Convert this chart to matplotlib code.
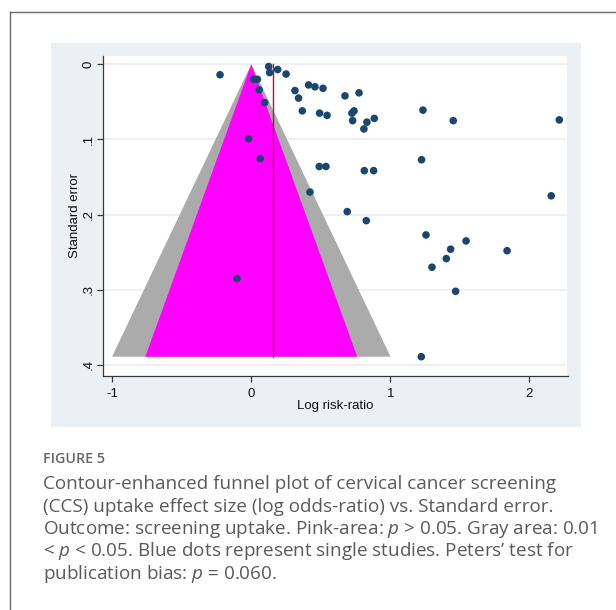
import matplotlib
matplotlib.use("Agg")
import matplotlib.pyplot as plt
from matplotlib.patches import Rectangle, Polygon
from matplotlib.lines import Line2D
import numpy as np

plt.rcParams['mathtext.fontset'] = 'custom'
plt.rcParams['mathtext.rm'] = 'Open Sans'
plt.rcParams['mathtext.it'] = 'Open Sans:italic'

# ---- data ----
log_rr = [-0.225, 0.125, 0.132, 0.190, 0.250, 0.018, 0.044, 0.057, 0.096,
          0.314, 0.340, 0.412, 0.458, 0.516, 0.367, 0.491, 0.545, 0.674,
          0.775, 0.724, 0.739, 0.729, 0.832, 0.885, 0.810, -0.019, 0.065,
          0.489, 0.537, 0.813, 0.880, 0.422, 0.690, 0.827, -0.103,
          1.235, 1.453, 2.216, 1.225, 2.158, 1.257, 1.545, 1.434, 1.403,
          1.840, 1.300, 1.470, 1.223]
std_err = [0.014, 0.003, 0.011, 0.007, 0.013, 0.020, 0.020, 0.034, 0.051,
           0.035, 0.045, 0.0275, 0.030, 0.032, 0.062, 0.065, 0.068, 0.042,
           0.038, 0.065, 0.062, 0.075, 0.077, 0.072, 0.086, 0.099, 0.1255,
           0.136, 0.136, 0.1415, 0.1415, 0.170, 0.196, 0.208, 0.285,
           0.061, 0.075, 0.074, 0.127, 0.175, 0.227, 0.235, 0.246, 0.2585,
           0.248, 0.270, 0.302, 0.389]
pooled = 0.158
z_05 = 1.96
z_01 = 2.576
x_ticks = [-1, 0, 1, 2]
x_ticklabels = ["-1", "0", "1", "2"]
y_ticks = [0, 0.1, 0.2, 0.3, 0.4]
y_ticklabels = ["0", ".1", ".2", ".3", ".4"]

W, H = 616, 610
fig = plt.figure(figsize=(W / 100, H / 100), dpi=100)
fig.patch.set_facecolor('white')

def fx(px):
    return px / W

def fy(py):
    return 1 - py / H

# outer caption frame
fig.add_artist(Line2D([fx(9.8), fx(9.8)], [fy(11.8), 0], transform=fig.transFigure,
                      color='#6b6b6b', lw=1.0))
fig.add_artist(Line2D([fx(9.8), 1], [fy(11.8), fy(11.8)], transform=fig.transFigure,
                      color='#6b6b6b', lw=1.0))

# graph region background
fig.add_artist(Rectangle((fx(51.5), fy(426.7)), fx(580.7) - fx(51.5), fy(42.5) - fy(426.7),
                         transform=fig.transFigure, facecolor='#eaf0f3', edgecolor='none',
                         zorder=0))

ax = fig.add_axes([fx(103), fy(375.5), fx(567.5) - fx(103), fy(55.7) - fy(375.5)])
ax.set_facecolor('white')
ax.set_xlim(-1.067, 2.275)
ax.set_ylim(0.414, -0.0114)

se_max = max(std_err)
gray = Polygon([[0, 0], [-z_01 * se_max, se_max], [z_01 * se_max, se_max]], closed=True,
               facecolor='#ababab', edgecolor='none', zorder=2)
pink = Polygon([[0, 0], [-z_05 * se_max, se_max], [z_05 * se_max, se_max]], closed=True,
               facecolor='#ff00ff', edgecolor='none', zorder=3)
ax.add_patch(gray)
ax.add_patch(pink)
ax.plot([pooled, pooled], [0, se_max], color='#b8122a', lw=1.0, zorder=4)

ax.scatter(log_rr, std_err, s=30, color='#1a476f', edgecolors='none', zorder=5)

for y in y_ticks:
    ax.axhline(y, color='#e6eef1', lw=1.2, zorder=1)

for s in ['top', 'right']:
    ax.spines[s].set_visible(False)
for s in ['left', 'bottom']:
    ax.spines[s].set_color('#3a3a3a')
    ax.spines[s].set_linewidth(0.9)

ax.set_xticks(x_ticks)
ax.set_xticklabels(x_ticklabels)
ax.set_yticks(y_ticks)
ax.set_yticklabels(y_ticklabels, rotation=90, va='center')
ax.tick_params(axis='both', direction='out', length=4, width=0.9, color='#3a3a3a',
               labelsize=9.5, labelcolor='#111111')
ax.tick_params(axis='x', pad=5)
ax.tick_params(axis='y', pad=2)
for lab in ax.get_xticklabels() + ax.get_yticklabels():
    lab.set_family('Liberation Sans')

ax.set_xlabel('Log risk-ratio', family='Liberation Sans', fontsize=9.5, color='#111111',
              labelpad=0)
ax.set_ylabel('Standard error', family='Liberation Sans', fontsize=9.5, color='#111111',
              labelpad=1)

# caption
cap_color = '#5a5a5a'
fig.text(fx(43), fy(459), 'FIGURE 5', family='Open Sans', fontsize=10.3, weight='semibold',
         color='#666666', va='center', ha='left')
lines = [
    'Contour-enhanced funnel plot of cervical cancer screening',
    '(CCS) uptake effect size (log odds-ratio) vs. Standard error.',
    'Outcome: screening uptake. Pink-area: $p$ > 0.05. Gray area: 0.01',
    '< $p$ < 0.05. Blue dots represent single studies. Peters’ test for',
    'publication bias: $p$ = 0.060.',
]
ys = [484, 506.5, 529, 551.5, 574]
for t, y in zip(lines, ys):
    fig.text(fx(43), fy(y), t, family='Open Sans', fontsize=13.6, color=cap_color,
             va='center', ha='left')

fig.savefig('out.png', dpi=100, facecolor='white')
